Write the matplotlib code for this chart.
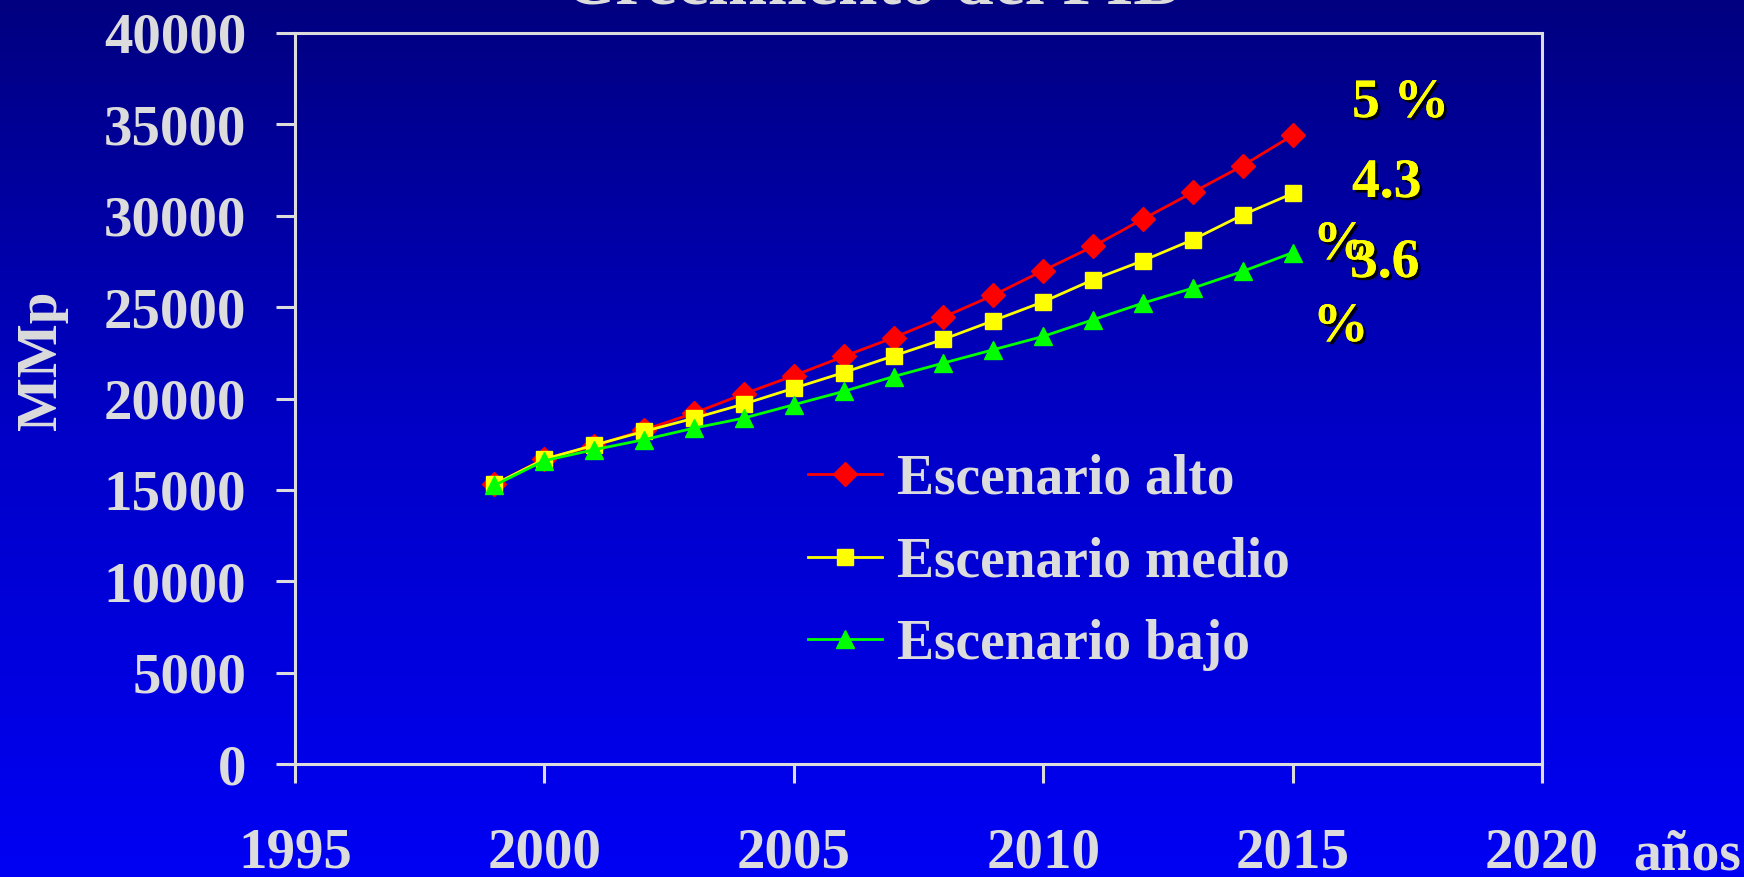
import numpy as np
import matplotlib
matplotlib.use("Agg")
import matplotlib.pyplot as plt
import matplotlib.patheffects as pe
from matplotlib.colors import LinearSegmentedColormap

years = list(range(1999, 2016))
alto = [15300, 16700, 17400, 18280, 19200, 20250, 21250, 22300, 23330, 24450,
        25650, 27000, 28320, 29820, 31280, 32740, 34400]
medio = [15300, 16680, 17450, 18200, 18920, 19700, 20560, 21420, 22330, 23240,
         24260, 25290, 26500, 27540, 28690, 30050, 31220]
bajo = [15250, 16600, 17200, 17750, 18380, 18930, 19660, 20390, 21200, 21940,
        22670, 23400, 24310, 25220, 26040, 26960, 27980]
labels = ["Escenario alto", "Escenario medio", "Escenario bajo"]
rates = ["5 %", "4.3", "%", "3.6", "%"]
xticks = [1995, 2000, 2005, 2010, 2015, 2020]
yticks = list(range(0, 40001, 5000))

plt.rcParams['font.family'] = ['Liberation Serif', 'DejaVu Serif']
plt.rcParams['font.weight'] = 'bold'
txt = '#dcdcdc'

fig = plt.figure(figsize=(17.44, 8.77), dpi=100)

# background gradient
bg = fig.add_axes([0, 0, 1, 1], zorder=-10)
cmap = LinearSegmentedColormap.from_list('bg', ['#000080', '#0000c8', '#0000f4'])
grad = np.linspace(0, 1, 256).reshape(-1, 1)
bg.imshow(grad, aspect='auto', cmap=cmap, extent=[0, 1, 0, 1], origin='upper')
bg.axis('off')

ax = fig.add_axes([0.1691, 0.1288, 0.7151, 0.8336])
ax.set_facecolor('none')
ax.plot(years, alto, color='#ff0000', lw=2, marker='D', ms=12,
        mec='#ff0000', label=labels[0])
ax.plot(years, medio, color='#ffff00', lw=2, marker='s', ms=11.5,
        mec='#ffff00', label=labels[1])
ax.plot(years, bajo, color='#00ff00', lw=2, marker='^', ms=13,
        mec='#00ff00', label=labels[2])

ax.set_xlim(1995, 2020)
ax.set_ylim(0, 40000)
ax.set_xticks(xticks)
ax.set_yticks(yticks)
for s in ax.spines.values():
    s.set_color(txt)
    s.set_linewidth(2.2)
ax.tick_params(axis='both', colors=txt, width=2.2, length=14, labelsize=41)
ax.tick_params(axis='x', pad=32)
ax.tick_params(axis='y', pad=21)
for lab in ax.get_xticklabels() + ax.get_yticklabels():
    lab.set_fontweight('bold')

fig.text(42 / 1744, 1 - 360 / 877, "MMp", rotation=90, color=txt,
         fontsize=41, ha='center', va='center')
fig.text(1633 / 1744, 1 - 870 / 877, "años", color=txt, fontsize=40,
         ha='left', va='baseline')
fig.text(872 / 1744, 1 - 3 / 877, "Crecimiento del PIB", color=txt,
         fontsize=51, ha='center', va='baseline')

leg = ax.legend(loc='upper left', bbox_to_anchor=(780 / 1744, 1 - 426 / 877),
                bbox_transform=fig.transFigure, frameon=False, fontsize=40,
                borderpad=0, handlelength=1.33, handletextpad=0.27,
                labelspacing=0.55)
for t in leg.get_texts():
    t.set_color(txt)

shadow = [pe.withSimplePatchShadow(offset=(2, -2), shadow_rgbFace='black', alpha=0.9),
          pe.Normal()]
rate_pos = [(1352, 103), (1352, 183), (1313, 245), (1350, 263), (1313, 327)]
for r, (px, py) in zip(rates, rate_pos):
    fig.text(px / 1744, 1 - py / 877, r, color='#ffff00', fontsize=40,
             ha='left', va='center', path_effects=shadow)

fig.savefig("out.png", dpi=100)
